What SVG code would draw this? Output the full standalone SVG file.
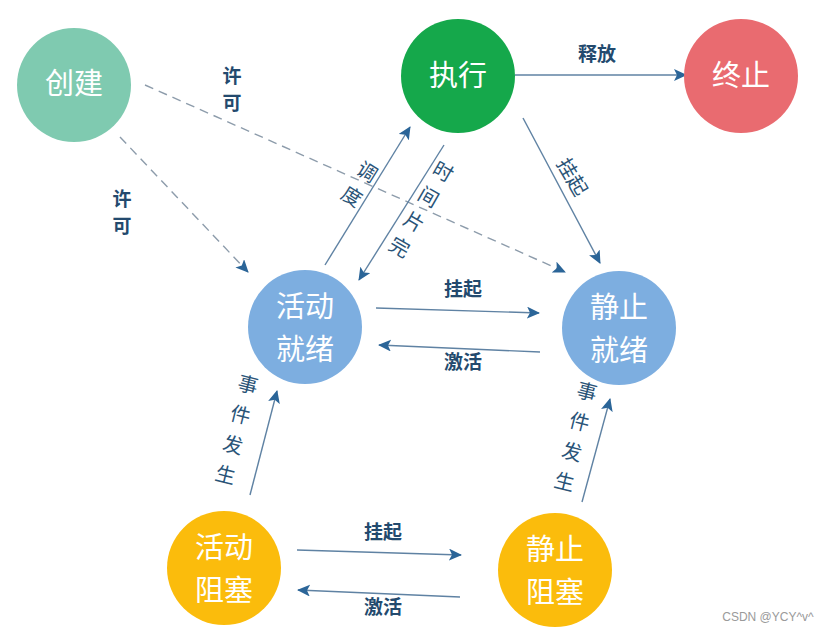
<svg xmlns="http://www.w3.org/2000/svg" width="824" height="631" viewBox="0 0 824 631">
<style>
.nt{font-family:"Noto Sans CJK SC","Noto Sans",sans-serif;font-size:29px;fill:#ffffff;text-anchor:middle}
.el{font-family:"Noto Sans CJK SC","Noto Sans",sans-serif;font-size:19px;font-weight:bold;fill:#234a6e;text-anchor:middle}
.rl{font-family:"Noto Sans CJK SC","Noto Sans",sans-serif;font-size:20px;fill:#2a5478;text-anchor:middle}
.ln{stroke:#5f82a3;stroke-width:1.4;fill:none}
.ds{stroke:#8d9cab;stroke-width:1.4;fill:none;stroke-dasharray:9 6}
</style>
<defs>
<marker id="ah" markerUnits="userSpaceOnUse" markerWidth="14" markerHeight="12" refX="12" refY="6" orient="auto">
<path d="M0,0 L13,6 L0,12 L3,6 z" fill="#2b6598"/>
</marker>
</defs>
<rect width="824" height="631" fill="#ffffff"/>
<g id="connectors">
<line class="ds" x1="145" y1="85" x2="565" y2="272" marker-end="url(#ah)"/>
<line class="ds" x1="120" y1="137" x2="248" y2="272" marker-end="url(#ah)"/>
<line class="ln" x1="515" y1="75" x2="686" y2="75" marker-end="url(#ah)"/>
<line class="ln" x1="523" y1="118" x2="600" y2="263" marker-end="url(#ah)"/>
<line class="ln" x1="325" y1="265" x2="410" y2="127" marker-end="url(#ah)"/>
<line class="ln" x1="444" y1="145" x2="359" y2="280" marker-end="url(#ah)"/>
<line class="ln" x1="376" y1="308" x2="539" y2="313" marker-end="url(#ah)"/>
<line class="ln" x1="540" y1="352" x2="379" y2="345" marker-end="url(#ah)"/>
<line class="ln" x1="250" y1="495" x2="277" y2="391" marker-end="url(#ah)"/>
<line class="ln" x1="582" y1="502" x2="610" y2="399" marker-end="url(#ah)"/>
<line class="ln" x1="297" y1="550" x2="461" y2="555" marker-end="url(#ah)"/>
<line class="ln" x1="460" y1="597" x2="298" y2="590" marker-end="url(#ah)"/>
<text class="el" x="232" y="83">许</text>
<text class="el" x="232" y="110">可</text>
<text class="el" x="122" y="206">许</text>
<text class="el" x="122" y="233">可</text>
<text class="el" x="597" y="61">释放</text>
<text class="rl" transform="translate(572,177) rotate(60)" y="7">挂起</text>
<g transform="translate(367,172) rotate(32)"><text class="rl" y="7">调</text><text class="rl" y="36">度</text></g>
<g transform="translate(443,172) rotate(30)"><text class="rl" y="7">时</text><text class="rl" y="36">间</text><text class="rl" y="65">片</text><text class="rl" y="94">完</text></g>
<text class="el" x="463" y="296">挂起</text>
<text class="el" x="463" y="369">激活</text>
<g transform="translate(248,385) rotate(14)"><text class="rl" y="7">事</text><text class="rl" y="38">件</text><text class="rl" y="69">发</text><text class="rl" y="100">生</text></g>
<g transform="translate(587,392) rotate(14)"><text class="rl" y="7">事</text><text class="rl" y="38">件</text><text class="rl" y="69">发</text><text class="rl" y="100">生</text></g>
<text class="el" x="383" y="539">挂起</text>
<text class="el" x="383" y="614">激活</text>
</g>
<g id="n-create"><circle cx="74" cy="85" r="57" fill="#7fcab0"/><text class="nt" x="74" y="94">创建</text></g>
<g id="n-run"><circle cx="458" cy="76" r="57" fill="#15a84b"/><text class="nt" x="458" y="86">执行</text></g>
<g id="n-end"><circle cx="741" cy="76" r="57" fill="#e96b70"/><text class="nt" x="741" y="86">终止</text></g>
<g id="n-ready-a"><circle cx="305" cy="327" r="57" fill="#7daee0"/><text class="nt" x="305" y="317">活动</text><text class="nt" x="305" y="360">就绪</text></g>
<g id="n-ready-s"><circle cx="619" cy="328" r="57" fill="#7daee0"/><text class="nt" x="619" y="318">静止</text><text class="nt" x="619" y="361">就绪</text></g>
<g id="n-block-a"><circle cx="224" cy="568" r="57" fill="#fbbc0c"/><text class="nt" x="224" y="558">活动</text><text class="nt" x="224" y="601">阻塞</text></g>
<g id="n-block-s"><circle cx="555" cy="570" r="57" fill="#fbbc0c"/><text class="nt" x="555" y="560">静止</text><text class="nt" x="555" y="603">阻塞</text></g>
<text x="768" y="621" font-family="Liberation Sans, Arial, sans-serif" font-size="12" fill="#9a9a9a" text-anchor="middle">CSDN @YCY^v^</text>
</svg>
